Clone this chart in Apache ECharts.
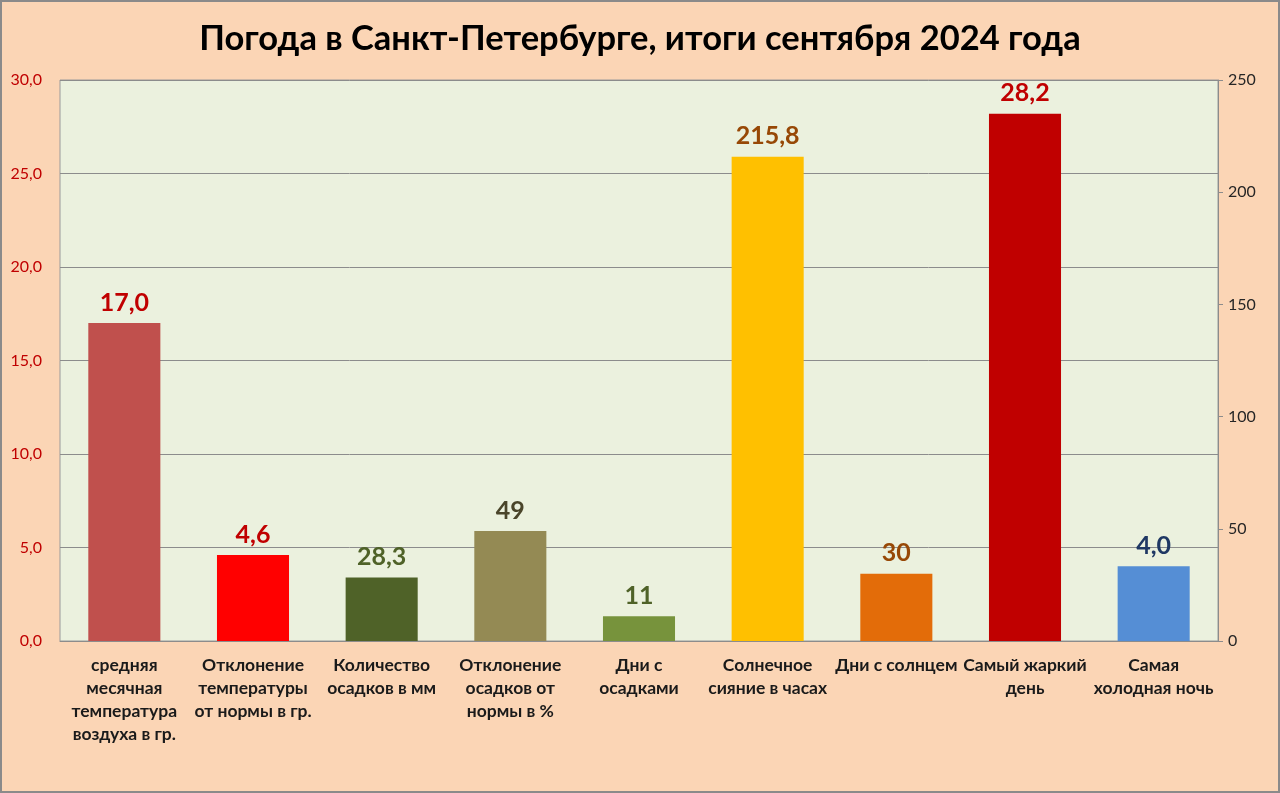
<!DOCTYPE html>
<html><head><meta charset="utf-8">
<script src="https://cdn.jsdelivr.net/npm/echarts@6/dist/echarts.min.js"></script>
<style>html,body{margin:0;padding:0;background:#FBD5B5;}#c{width:1280px;height:793px;box-sizing:border-box;border:2px solid #8a8a8a;}</style>
</head><body><div id="c"></div>
<script>
const categories = [
  "средняя\nмесячная\nтемпература\nвоздуха в гр.",
  "Отклонение\nтемпературы\nот нормы в гр.",
  "Количество\nосадков в мм",
  "Отклонение\nосадков от\nнормы в %",
  "Дни с\nосадками",
  "Солнечное\nсияние в часах",
  "Дни с солнцем",
  "Самый жаркий\nдень",
  "Самая\nхолодная ночь"
];
// left axis (temperature, °C)
const tempValues = [17.0, 4.6, null, null, null, null, null, 28.2, 4.0];
// right axis (mm, %, days, hours)
const otherValues = [null, null, 28.3, 49, 11, 215.8, 30, null, null];
const barColors = ["#C0504D","#FF0000","#4F6228","#948A54","#77933C","#FFC000","#E36C09","#C00000","#558ED5"];
const labelColors = ["#C00000","#C00000","#4F6228","#4A452A","#4F6228","#974806","#974806","#C00000","#1F3864"];
const leftTicks = {min:0, max:30, interval:5};
const rightTicks = {min:0, max:250, interval:50};

const chart = echarts.init(document.getElementById('c'));
const fmtTemp = v => v.toFixed(1).replace('.', ',');
const fmtOther = v => String(v).replace('.', ',');
function mk(vals, fmt) {
  return vals.map((v,i) => v == null ? null : {
    value: v,
    itemStyle: {color: barColors[i]},
    label: {color: labelColors[i], formatter: () => fmt(v)}
  });
}
const font = 'Lato, "Open Sans", sans-serif';
chart.setOption({
  backgroundColor: '#FBD5B5',
  animation: false,
  title: {text: 'Погода в Санкт-Петербурге, итоги сентября 2024 года', left: 'center', top: 14,
    textStyle: {fontFamily: font, fontWeight: 'bold', fontSize: 34.5, color: '#000'}},
  grid: {left: 58, right: 60, top: 78, bottom: 150, show: true, backgroundColor: '#EBF1DE', borderColor: '#9a9a9a', borderWidth: 1},
  xAxis: {type: 'category', data: categories,
    axisLine: {lineStyle: {color: '#8c8c8c'}}, axisTick: {show: false},
    axisLabel: {interval: 0, fontFamily: font, fontWeight: 'bold', fontSize: 17.5, color: '#1a1a1a', lineHeight: 23, margin: 13}},
  yAxis: [
    {type: 'value', ...leftTicks, position: 'left',
      axisLine: {show: false}, axisTick: {show: false},
      splitLine: {lineStyle: {color: '#8c8c8c', width: 1}},
      axisLabel: {fontFamily: font, fontSize: 16, color: '#C00000', margin: 18, formatter: v => v.toFixed(1).replace('.', ',')}},
    {type: 'value', ...rightTicks, position: 'right',
      axisLine: {show: true, lineStyle: {color: '#8c8c8c'}}, axisTick: {show: true, length: 5, lineStyle: {color: '#8c8c8c'}},
      splitLine: {show: false},
      axisLabel: {fontFamily: font, fontSize: 16, color: '#262626', margin: 10}}
  ],
  series: [
    {type: 'bar', yAxisIndex: 0, data: mk(tempValues, fmtTemp), barWidth: '56%', barGap: '-100%',
      label: {show: true, position: 'top', distance: 8, fontFamily: font, fontWeight: 'bold', fontSize: 25}},
    {type: 'bar', yAxisIndex: 1, data: mk(otherValues, fmtOther), barWidth: '56%', barGap: '-100%',
      label: {show: true, position: 'top', distance: 8, fontFamily: font, fontWeight: 'bold', fontSize: 25}}
  ]
});
</script></body></html>
